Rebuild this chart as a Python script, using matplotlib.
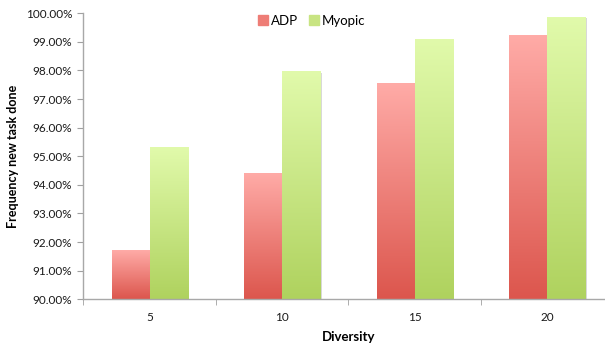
import numpy as np
import matplotlib.pyplot as plt
import matplotlib.patches as mpatches
from matplotlib.colors import LinearSegmentedColormap

#%% Data

diversity = ["5", "10", "15", "20"]
adp = [91.69, 94.39, 97.53, 99.20]
myopic = [95.30, 97.95, 99.09, 99.86]

#%% Style

plt.rcParams['font.family'] = ['Lato', 'DejaVu Sans']

adp_cmap = LinearSegmentedColormap.from_list("adp", ["#DC564D", "#FFABA7"])
myo_cmap = LinearSegmentedColormap.from_list("myo", ["#AFD25E", "#E1FAAB"])

fig = plt.figure(figsize=(6.05, 3.44), dpi=100)
ax = fig.add_axes([0.1377, 0.130, 0.876, 0.8314])

x = np.arange(len(diversity))
w = 0.287
base = 90.0
grad = np.linspace(0, 1, 256).reshape(-1, 1)


def gradient_bar(xc, top, cmap):
    x0, x1 = xc - w / 2, xc + w / 2
    # faint shadow on the right side
    ax.add_patch(mpatches.Rectangle((x1, base), 0.012, top - base - 0.03,
                                    color="#D8D8D8", zorder=1, lw=0))
    ax.imshow(grad, cmap=cmap, origin="lower", aspect="auto",
              extent=(x0, x1, base, top), zorder=2)


for i in range(len(diversity)):
    gradient_bar(x[i] - w / 2, adp[i], adp_cmap)
    gradient_bar(x[i] + w / 2, myopic[i], myo_cmap)

ax.set_xlim(-0.5, 3.5)
ax.set_ylim(90, 100)

ax.set_yticks(np.arange(90, 100.5, 1))
ax.set_yticklabels(["%.2f%%" % v for v in np.arange(90, 100.5, 1)], fontsize=8.5,
                   color="#1A1A1A")
ax.set_xticks(x)
ax.set_xticklabels(diversity, fontsize=8.5, color="#1A1A1A")
ax.set_xticks(np.arange(-0.5, 3.6, 1), minor=True)
ax.tick_params(axis="x", which="major", length=0, pad=9)
ax.tick_params(axis="x", which="minor", length=4, color="#A0A0A0", direction="out")
ax.tick_params(axis="y", length=4, color="#A0A0A0", direction="out", pad=4)

for s in ["top", "right"]:
    ax.spines[s].set_visible(False)
for s in ["left", "bottom"]:
    ax.spines[s].set_color("#A8A8A8")
    ax.spines[s].set_linewidth(1.0)

ax.set_xlabel("Diversity", fontsize=9.5, fontweight="bold", labelpad=6)
ax.set_ylabel("Frequency new task done", fontsize=9, fontweight="bold", labelpad=5)

handles = [mpatches.Patch(color="#EE7D76", label="ADP"),
           mpatches.Patch(color="#C8E482", label="Myopic")]
fig.legend(handles=handles, loc="center", bbox_to_anchor=(0.515, 0.94), ncol=2,
           frameon=False, fontsize=9.5, handlelength=0.75, handleheight=0.75,
           handletextpad=0.25, columnspacing=0.8)

fig.savefig("out.png", dpi=100)
